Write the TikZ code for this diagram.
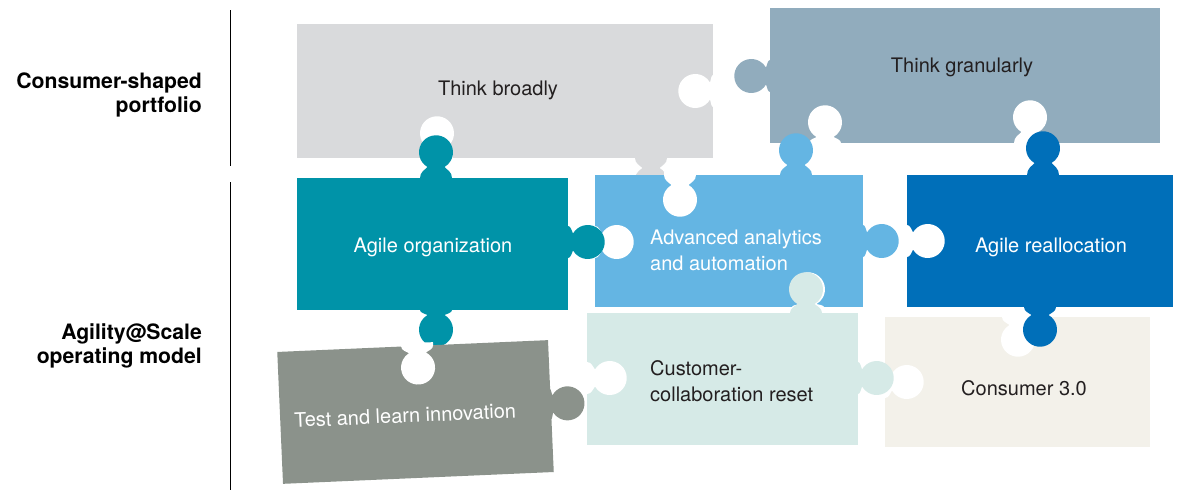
\documentclass[tikz,border=0pt]{standalone}
\usepackage{fontspec}
\setmainfont{TeX Gyre Heros}
\definecolor{cA}{HTML}{D9DADC}
\definecolor{cB}{HTML}{91ACBD}
\definecolor{cC}{HTML}{0093A8}
\definecolor{cD}{HTML}{64B5E3}
\definecolor{cE}{HTML}{006FB9}
\definecolor{cF}{HTML}{8B928B}
\definecolor{cG}{HTML}{D6EAE7}
\definecolor{cH}{HTML}{F3F1EA}
\definecolor{txt}{HTML}{231F20}
% knob: #1 colour, #2 point on edge, #3 direction (0 right, 90 up, 180 left, 270 down), #4 distance edge->centre
\newcommand{\pzknob}[4]{\fill[#1,shift={#2},rotate=#3] (-3,-16) -- (0,-16) .. controls ({0.55*(#4-15)},-16) and ({0.75*(#4-15)},-11) .. ({#4-15},-8.5) arc[start angle=210,end angle=510,radius=17] .. controls ({0.75*(#4-15)},11) and ({0.55*(#4-15)},16) .. (0,16) -- (-3,16) -- cycle;}
\tikzset{
  lbl/.style={font=\fontsize{21.2}{24.5}\selectfont\bfseries, text=black, align=right, anchor=east, inner sep=0pt},
  dk/.style={font=\fontsize{20}{26}\selectfont, text=txt, inner sep=0pt},
  wt/.style={font=\fontsize{20}{26}\selectfont, text=white, inner sep=0pt},
  rule/.style={draw=black, line width=1pt}
}
\begin{document}
\begin{tikzpicture}[x=1pt,y=-1pt]
\useasboundingbox (0,0) rectangle (1177,490);
% A Think broadly
\fill[cA] (297,24) rectangle (713,158);
\pzknob{cA}{(651,158)}{270}{25}
\pzknob{white}{(713,91)}{180}{18}
\pzknob{white}{(437,158)}{90}{25}
% B Think granularly
\fill[cB] (770,8) rectangle (1160,143);
\pzknob{cB}{(770,76)}{180}{19}
\pzknob{white}{(825,143)}{90}{21}
\pzknob{white}{(1030,143)}{90}{26}
% C Agile organization
\fill[cC] (297,178) rectangle (568,310);
\pzknob{cC}{(436,178)}{90}{26}
% D Advanced analytics
\fill[cD] (595,175) rectangle (863,307);
\pzknob{white}{(680,175)}{270}{25}
\pzknob{white}{(595,242)}{0}{22}
\pzknob{white}{(808,307)}{90}{18}
\pzknob{cD}{(796,175)}{90}{25}
\pzknob{cD}{(863,241)}{0}{19}
\pzknob{cC}{(568,242)}{0}{20}
\pzknob{cC}{(436,310)}{270}{20}
% E Agile reallocation
\fill[cE] (907,175) rectangle (1173,307);
\pzknob{white}{(907,241)}{0}{21}
\pzknob{cE}{(1043,175)}{90}{27}
% F Test and learn
\begin{scope}[shift={(415,412)},rotate=2.5]
\fill[cF] (-135,-66) rectangle (136,66);
\pzknob{white}{(5,-66)}{270}{22}
\pzknob{cF}{(135,-2)}{0}{18}
\node[wt,rotate=2.5] (tl) at (-10,3) {Test and learn innovation};
\end{scope}
% G Customer-collaboration reset
\fill[cG] (587,313) rectangle (858,445);
\pzknob{white}{(587,378)}{0}{23}
\pzknob{cG}{(806,313)}{90}{24}
% H Consumer 3.0
\fill[cH] (885,317) rectangle (1150,447);
\pzknob{white}{(1018,317)}{270}{23}
\pzknob{white}{(885,382)}{0}{22}
\pzknob{cG}{(858,378)}{0}{19}
\pzknob{cE}{(1040,307)}{270}{23}
% texts
\node[dk] (tb) at (498,90) {Think broadly};
\node[dk] (tg) at (962,67) {Think granularly};
\node[wt] (ao) at (433,247) {Agile organization};
\node[wt,align=left,anchor=west] (aa) at (650,250) {Advanced analytics\\and automation};
\node[wt] (ar) at (1051,247) {Agile reallocation};
\node[dk,align=left,anchor=west] (cc) at (650,381) {Customer-\\collaboration reset};
\node[dk] (c3) at (1024,388) {Consumer 3.0};
% side labels
\node[lbl] (l1) at (202,95) {Consumer-shaped\\portfolio};
\node[lbl] (l2) at (202,346) {Agility@Scale\\operating model};
\coordinate (r1a) at (230,10);
\coordinate (r1b) at (230,166);
\coordinate (r2a) at (230,182);
\coordinate (r2b) at (230,490);
\draw[rule] (r1a) -- (r1b);
\draw[rule] (r2a) -- (r2b);
\end{tikzpicture}
\end{document}
